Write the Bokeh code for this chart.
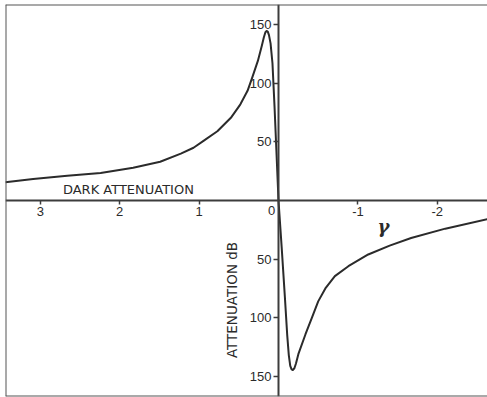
from bokeh.plotting import figure
from bokeh.models import (Range1d, LinearAxis, FixedTicker, CustomJSTickFormatter,
                          Span, Label)
from bokeh.embed import file_html
from bokeh.resources import INLINE

# Attenuation (dB) versus gamma; upper branch = dark attenuation (positive gamma),
# lower branch plotted downward for negative gamma.
gamma_upper = [3.44, 3.09, 2.66, 2.24, 1.83, 1.49, 1.23, 1.07, 0.94, 0.77, 0.60,
               0.48, 0.39, 0.33, 0.26, 0.21, 0.185, 0.165, 0.15, 0.135, 0.12,
               0.10, 0.076, 0.05, 0.025, 0.0]
atten_upper = [15.5, 18.4, 21, 23.5, 28, 33, 40, 45, 51, 59, 70.5,
               82, 93.5, 105, 119, 132, 139, 143.5, 144.5, 144, 141,
               134, 117, 80, 40, 0]

gamma_lower = [0.0, -0.04, -0.08, -0.11, -0.13, -0.148, -0.165, -0.18, -0.20,
               -0.22, -0.25, -0.34, -0.42, -0.50, -0.59, -0.71, -0.88, -1.13,
               -1.40, -1.67, -2.10, -2.63]
atten_lower = [0, 40, 82, 115, 132, 141, 144, 144.5, 143,
               139, 131, 114, 100, 86, 75, 64.5, 56, 46,
               38.5, 32, 24, 16]

x_ticks = [3, 2, 1, -1, -2]
y_ticks = [-150, -100, -50, 50, 100, 150]

INK = "#2b2b2b"
AXIS = "#3c3c3c"
FONT = "Liberation Sans"

p = figure(width=487, height=397,
           x_range=Range1d(3.438, -2.632), y_range=Range1d(-167.1, 167.1),
           x_axis_location=None, y_axis_location=None,
           min_border_left=5, min_border_top=4, min_border_right=0, min_border_bottom=1,
           toolbar_location=None, output_backend="svg")
p.grid.visible = False
p.outline_line_color = None
p.background_fill_color = "white"
p.border_fill_color = "white"

# frame edges (left, top, bottom)
for loc, dim in [(p.x_range.start, "height"), (p.y_range.end, "width"),
                 (p.y_range.start, "width")]:
    p.add_layout(Span(location=loc, dimension=dim, line_color="#555555", line_width=2))

xaxis = LinearAxis(fixed_location=0, ticker=FixedTicker(ticks=x_ticks),
                   formatter=CustomJSTickFormatter(code="return tick.toString()"),
                   axis_line_color=AXIS, axis_line_width=2,
                   major_tick_line_color=AXIS, major_tick_line_width=1.5,
                   major_tick_in=0, major_tick_out=4, minor_tick_line_color=None,
                   major_label_standoff=2,
                   major_label_text_font=FONT, major_label_text_font_size="13px",
                   major_label_text_color=INK)
p.add_layout(xaxis, "below")

yaxis = LinearAxis(fixed_location=0, ticker=FixedTicker(ticks=y_ticks),
                   formatter=CustomJSTickFormatter(code="return Math.abs(tick).toString()"),
                   axis_line_color=AXIS, axis_line_width=2,
                   major_tick_line_color=AXIS, major_tick_line_width=1.5,
                   major_tick_in=0, major_tick_out=5, minor_tick_line_color=None,
                   major_label_standoff=2,
                   major_label_text_font=FONT, major_label_text_font_size="13px",
                   major_label_text_color=INK)
p.add_layout(yaxis, "left")

p.line(gamma_upper, atten_upper, line_color=INK, line_width=2, line_join="round")
p.line(gamma_lower, [-a for a in atten_lower], line_color=INK, line_width=2,
       line_join="round")

p.add_layout(Label(x=0, y=0, text="0", x_offset=-7, y_offset=-5,
                   text_align="center", text_baseline="top",
                   text_font=FONT, text_font_size="13px", text_color=INK))
p.add_layout(Label(x=1.89, y=9.5, text="DARK ATTENUATION",
                   text_align="center", text_baseline="middle",
                   text_font="DejaVu Sans", text_font_size="13px", text_color=INK))
p.add_layout(Label(x=0.58, y=-83, text="ATTENUATION  dB", angle=90, angle_units="deg",
                   text_align="center", text_baseline="middle",
                   text_font="DejaVu Sans", text_font_size="13.5px", text_color=INK))
p.add_layout(Label(x=-1.32, y=-22, text="γ",
                   text_align="center", text_baseline="middle",
                   text_font="DejaVu Serif", text_font_style="bold italic",
                   text_font_size="18px", text_color=INK))

open("out.html", "w").write(file_html(p, INLINE))
